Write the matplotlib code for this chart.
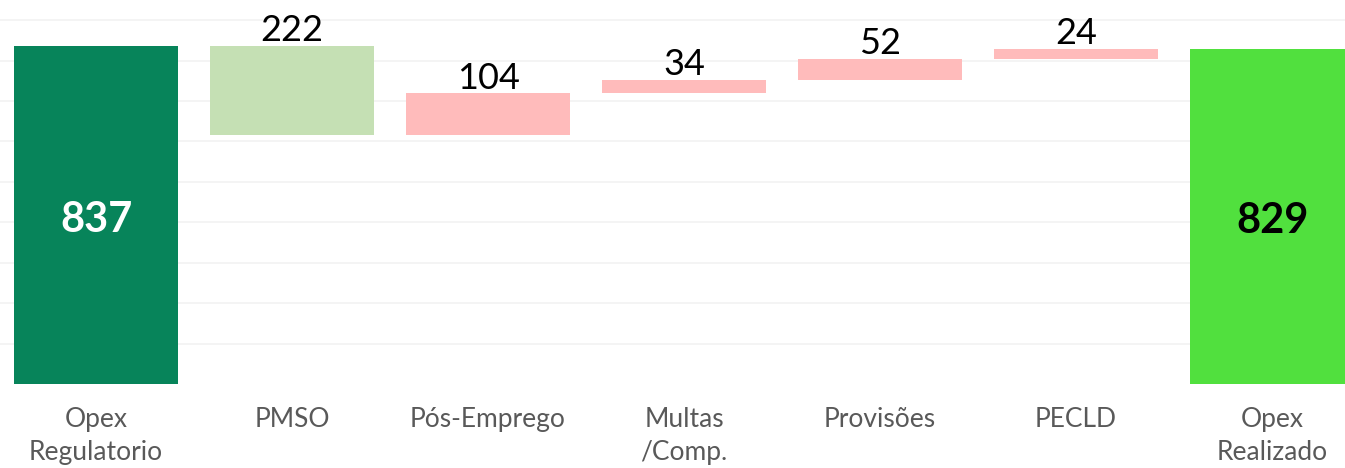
import numpy as np
import matplotlib.pyplot as plt

categories = ["Opex\nRegulatorio", "PMSO", "Pós-Emprego", "Multas\n/Comp.",
              "Provisões", "PECLD", "Opex\nRealizado"]
start_value = 837
deltas = [-222, 104, 34, 52, 24]
end_value = 829

colors = ["#07845A", "#C5E0B4", "#FFBBBB", "#FFBBBB", "#FFBBBB", "#FFBBBB", "#51E03E"]

plt.rcParams['font.family'] = ['Lato', 'DejaVu Sans']

# waterfall geometry from the values
bottoms = [0]
heights = [start_value]
level = start_value
for d in deltas:
    bottoms.append(min(level, level + d))
    heights.append(abs(d))
    level += d
bottoms.append(0)
heights.append(end_value)

fig = plt.figure(figsize=(13.45, 4.68), dpi=100)
ax = fig.add_axes([0, (468 - 384) / 468, 1, 384 / 468])

x = np.arange(len(categories))
ax.bar(x, heights, bottom=bottoms, width=0.837, color=colors, zorder=2)

ax.set_ylim(0, 950)
ax.set_xlim(-0.49, 6.372)
ax.set_yticks(np.arange(100, 1000, 100))
ax.yaxis.grid(True, color="#F2F2F2", linewidth=1.2, zorder=0)
ax.tick_params(axis='y', left=False, labelleft=False)
ax.tick_params(axis='x', bottom=False, pad=13, labelsize=19, labelcolor="#595959")
ax.set_xticks(x)
ax.set_xticklabels(categories, linespacing=1.4)
for s in ax.spines.values():
    s.set_visible(False)

# totals inside bars
ax.text(x[0], bottoms[0] + heights[0] / 2 - 12, str(start_value), ha='center', va='center',
        color='white', fontsize=30, fontweight='bold')
ax.text(x[-1], bottoms[-1] + heights[-1] / 2 - 12, str(end_value), ha='center', va='center',
        color='black', fontsize=30, fontweight='bold')

# deltas above bars
for i, d in enumerate(deltas, start=1):
    ax.annotate(str(abs(d)), (x[i], bottoms[i] + heights[i]), xytext=(0, -1),
                textcoords='offset points', ha='center', va='bottom', fontsize=26,
                color='black')

fig.savefig("out.png", dpi=100)
